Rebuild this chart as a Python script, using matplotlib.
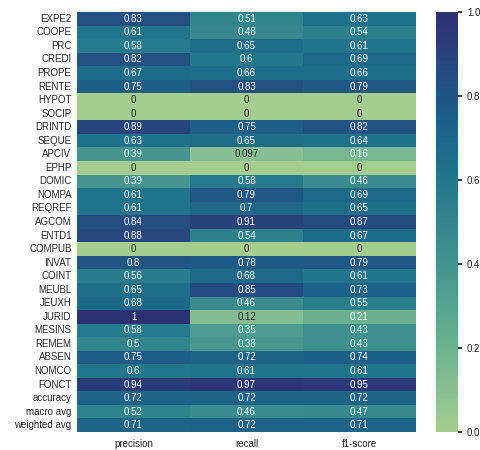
import matplotlib
matplotlib.use("Agg")
import matplotlib.pyplot as plt
import numpy as np
import pandas as pd
import seaborn as sns

# classification report values
labels = ["EXPE2", "COOPE", "PRC", "CREDI", "PROPE", "RENTE", "HYPOT", "SOCIP",
          "DRINTD", "SEQUE", "APCIV", "EPHP", "DOMIC", "NOMPA", "REQREF", "AGCOM",
          "ENTD1", "COMPUB", "INVAT", "COINT", "MEUBL", "JEUXH", "JURID", "MESINS",
          "REMEM", "ABSEN", "NOMCO", "FONCT", "accuracy", "macro avg", "weighted avg"]
metrics = ["precision", "recall", "f1-score"]
precision = [0.83, 0.61, 0.58, 0.82, 0.67, 0.75, 0, 0, 0.89, 0.63, 0.39, 0, 0.39,
             0.61, 0.61, 0.84, 0.88, 0, 0.8, 0.56, 0.65, 0.68, 1, 0.58, 0.5, 0.75,
             0.6, 0.94, 0.72, 0.52, 0.71]
recall = [0.51, 0.48, 0.65, 0.6, 0.66, 0.83, 0, 0, 0.75, 0.65, 0.097, 0, 0.58,
          0.79, 0.7, 0.91, 0.54, 0, 0.78, 0.68, 0.85, 0.46, 0.12, 0.35, 0.38, 0.72,
          0.61, 0.97, 0.72, 0.46, 0.72]
f1 = [0.63, 0.54, 0.61, 0.69, 0.66, 0.79, 0, 0, 0.82, 0.64, 0.16, 0, 0.46,
      0.69, 0.65, 0.87, 0.67, 0, 0.79, 0.61, 0.73, 0.55, 0.21, 0.43, 0.43, 0.74,
      0.61, 0.95, 0.72, 0.47, 0.71]

df = pd.DataFrame({"precision": precision, "recall": recall, "f1-score": f1},
                  index=labels)[metrics]

sns.set_theme(style="ticks")
plt.rcParams['font.family'] = ['Liberation Sans', 'DejaVu Sans']

W, H = 481, 450
fig = plt.figure(figsize=(W / 100, H / 100), dpi=100)
ax = fig.add_axes([77 / W, 1 - 432 / H, (416 - 77) / W, (432 - 12) / H])
cax = fig.add_axes([436 / W, 1 - 432 / H, 22 / W, (432 - 12) / H])

sns.heatmap(df, annot=True, cmap="crest", vmin=0, vmax=1, ax=ax, cbar_ax=cax,
            yticklabels=True, annot_kws={"fontsize": 7})
ax.tick_params(axis="both", length=0, labelsize=7)
ax.tick_params(axis="x", pad=5)
ax.tick_params(axis="y", pad=4)
plt.setp(ax.get_yticklabels(), rotation=0)
cax.tick_params(labelsize=7, length=3)
for s in cax.spines.values():
    s.set_visible(False)

fig.savefig("out.png", dpi=100)
